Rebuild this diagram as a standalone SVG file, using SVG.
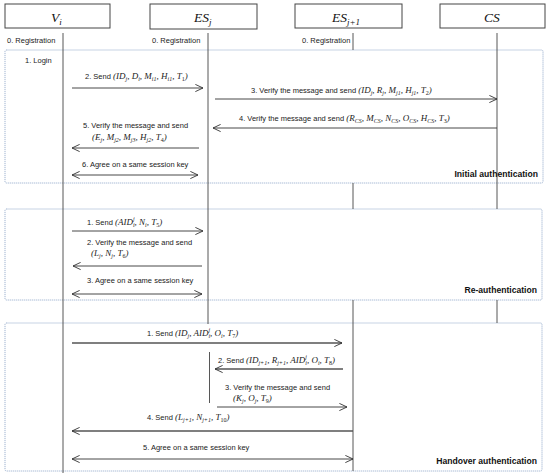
<svg xmlns="http://www.w3.org/2000/svg" width="550" height="476" viewBox="0 0 550 476">
<style>
.hdr{fill:#fff;stroke:#444;stroke-width:1}
.ht{font-family:"Liberation Serif",serif;font-style:italic;font-size:13.5px;fill:#111}
.hs{font-size:9px}
.lbl{font-family:"Liberation Sans",Arial,sans-serif;font-size:7.5px;fill:#222}
.m{font-family:"Liberation Serif",serif;font-style:italic;font-size:9px}
.s{font-size:6px}
.up{font-style:normal}
.bold{font-family:"Liberation Sans",Arial,sans-serif;font-size:8.6px;font-weight:bold;fill:#111;text-anchor:end}
.life{stroke:#444;stroke-width:0.9;fill:none}
.frame{fill:none;stroke:#8ea6c8;stroke-width:1;stroke-dasharray:1 1}
.arr{stroke:#333;stroke-width:0.9;fill:none;marker-end:url(#ah)}
.arr2{stroke:#333;stroke-width:0.9;fill:none;marker-end:url(#ah);marker-start:url(#ah)}
.thick{stroke:#555;stroke-width:1.5}
</style>
<defs>
<marker id="ah" viewBox="0 0 10 10" refX="9.5" refY="5" markerWidth="9" markerHeight="9" markerUnits="userSpaceOnUse" orient="auto-start-reverse">
<path d="M1,1 L9.5,5 L1,9" fill="none" stroke="#333" stroke-width="1"/>
</marker>
</defs>
<rect width="550" height="476" fill="#fff"/>

<!-- frames -->
<rect class="frame" x="5" y="50" width="538" height="133" rx="1.5"/>
<rect class="frame" x="5" y="209" width="537" height="91" rx="1.5"/>
<rect class="frame" x="5" y="323" width="537" height="148" rx="1.5"/>

<!-- lifelines / nodes -->
<g id="Vi">
<rect class="hdr" x="5" y="4" width="105" height="24"/>
<text class="ht" x="51" y="22">V<tspan class="hs" dy="2.5">i</tspan></text>
<line class="life" x1="63" y1="33" x2="63" y2="473"/>
<text class="lbl" x="7" y="43">0. Registration</text>
</g>
<g id="ESj">
<rect class="hdr" x="150" y="4" width="107" height="25"/>
<text class="ht" x="194" y="22">ES<tspan class="hs" dy="2.5">j</tspan></text>
<line class="life" x1="208" y1="33" x2="208" y2="324"/>
<line class="life" x1="209.5" y1="352" x2="209.5" y2="403"/>
<text class="lbl" x="152" y="43">0. Registration</text>
</g>
<g id="ESj1">
<rect class="hdr" x="295" y="4" width="107" height="24"/>
<text class="ht" x="332" y="22">ES<tspan class="hs" dy="2.5">j+1</tspan></text>
<line class="life" x1="353" y1="33" x2="353" y2="50"/>
<line class="life" x1="353" y1="183" x2="353" y2="209"/>
<line class="life" x1="353" y1="300" x2="353" y2="471"/>
<text class="lbl" x="302" y="43">0. Registration</text>
</g>
<g id="CS">
<rect class="hdr" x="440" y="4" width="105" height="24"/>
<text class="ht" x="484" y="22">CS</text>
<line class="life" x1="497" y1="33" x2="497" y2="209"/>
<line class="life" x1="497" y1="300" x2="497" y2="323"/>
</g>

<!-- connectors -->
<g id="connectors">
<line class="arr" x1="72" y1="88" x2="203" y2="88"/>
<line class="arr" x1="215" y1="99" x2="497" y2="99"/>
<line class="arr" x1="497" y1="128" x2="213" y2="128"/>
<line class="arr" x1="199" y1="148" x2="72" y2="148"/>
<line class="arr2" x1="72" y1="175" x2="198" y2="175"/>
<line class="arr" x1="72" y1="231" x2="203" y2="231"/>
<line class="arr" x1="202" y1="266" x2="73" y2="266"/>
<line class="arr2" x1="72" y1="294" x2="202" y2="294"/>
<line class="arr thick" x1="72" y1="343" x2="342" y2="343"/>
<line class="arr thick" x1="343" y1="369" x2="215" y2="369"/>
<line class="arr" x1="217" y1="407" x2="347" y2="407"/>
<line class="arr thick" x1="353" y1="431" x2="72" y2="431"/>
<line class="arr2" x1="72" y1="459" x2="353" y2="459"/>
</g>

<!-- labels -->
<g id="labels">
<text class="lbl" x="25" y="63">1. Login</text>
<text class="lbl" x="85" y="79">2. Send <tspan class="m">(ID<tspan class="s" dy="2">j</tspan><tspan dy="-2">, D</tspan><tspan class="s" dy="2">i</tspan><tspan dy="-2">, M</tspan><tspan class="s" dy="2">i1</tspan><tspan dy="-2">, H</tspan><tspan class="s" dy="2">i1</tspan><tspan dy="-2">, T</tspan><tspan class="s up" dy="2">1</tspan><tspan dy="-2">)</tspan></tspan></text>
<text class="lbl" x="251" y="93">3. Verify the message and send <tspan class="m">(ID<tspan class="s" dy="2">j</tspan><tspan dy="-2">, R</tspan><tspan class="s" dy="2">j</tspan><tspan dy="-2">, M</tspan><tspan class="s" dy="2">j1</tspan><tspan dy="-2">, H</tspan><tspan class="s" dy="2">j1</tspan><tspan dy="-2">, T</tspan><tspan class="s up" dy="2">2</tspan><tspan dy="-2">)</tspan></tspan></text>
<text class="lbl" x="239" y="121">4. Verify the message and send <tspan class="m">(R<tspan class="s" dy="2">CS</tspan><tspan dy="-2">, M</tspan><tspan class="s" dy="2">CS</tspan><tspan dy="-2">, N</tspan><tspan class="s" dy="2">CS</tspan><tspan dy="-2">, O</tspan><tspan class="s" dy="2">CS</tspan><tspan dy="-2">, H</tspan><tspan class="s" dy="2">CS</tspan><tspan dy="-2">, T</tspan><tspan class="s up" dy="2">3</tspan><tspan dy="-2">)</tspan></tspan></text>
<text class="lbl" x="83" y="128">5. Verify the message and send</text>
<text class="lbl" x="92" y="140"><tspan class="m">(E<tspan class="s" dy="2">j</tspan><tspan dy="-2">, M</tspan><tspan class="s" dy="2">j2</tspan><tspan dy="-2">, M</tspan><tspan class="s" dy="2">j3</tspan><tspan dy="-2">, H</tspan><tspan class="s" dy="2">j2</tspan><tspan dy="-2">, T</tspan><tspan class="s up" dy="2">4</tspan><tspan dy="-2">)</tspan></tspan></text>
<text class="lbl" x="82" y="167">6. Agree on a same session key</text>
<text class="bold" x="538" y="177">Initial authentication</text>

<text class="lbl" x="87" y="225">1. Send <tspan class="m">(AID<tspan class="s" dy="2">i</tspan><tspan class="s" dx="-1.7" dy="-6">j</tspan><tspan dy="4">, N</tspan><tspan class="s" dy="2">i</tspan><tspan dy="-2">, T</tspan><tspan class="s up" dy="2">5</tspan><tspan dy="-2">)</tspan></tspan></text>
<text class="lbl" x="87" y="245">2. Verify the message and send</text>
<text class="lbl" x="91" y="256"><tspan class="m">(L<tspan class="s" dy="2">j</tspan><tspan dy="-2">, N</tspan><tspan class="s" dy="2">j</tspan><tspan dy="-2">, T</tspan><tspan class="s up" dy="2">6</tspan><tspan dy="-2">)</tspan></tspan></text>
<text class="lbl" x="87" y="283">3. Agree on a same session key</text>
<text class="bold" x="537" y="293">Re-authentication</text>

<text class="lbl" x="147" y="336">1. Send <tspan class="m">(ID<tspan class="s" dy="2">j</tspan><tspan dy="-2">, AID</tspan><tspan class="s" dy="2">i</tspan><tspan class="s" dx="-1.7" dy="-6">j</tspan><tspan dy="4">, O</tspan><tspan class="s" dy="2">i</tspan><tspan dy="-2">, T</tspan><tspan class="s up" dy="2">7</tspan><tspan dy="-2">)</tspan></tspan></text>
<text class="lbl" x="218" y="363">2. Send <tspan class="m">(ID<tspan class="s" dy="2">j+1</tspan><tspan dy="-2">, R</tspan><tspan class="s" dy="2">j+1</tspan><tspan dy="-2">, AID</tspan><tspan class="s" dy="2">i</tspan><tspan class="s" dx="-1.7" dy="-6">j</tspan><tspan dy="4">, O</tspan><tspan class="s" dy="2">i</tspan><tspan dy="-2">, T</tspan><tspan class="s up" dy="2">8</tspan><tspan dy="-2">)</tspan></tspan></text>
<text class="lbl" x="225" y="390">3. Verify the message and send</text>
<text class="lbl" x="233" y="401"><tspan class="m">(K<tspan class="s" dy="2">j</tspan><tspan dy="-2">, O</tspan><tspan class="s" dy="2">j</tspan><tspan dy="-2">, T</tspan><tspan class="s up" dy="2">9</tspan><tspan dy="-2">)</tspan></tspan></text>
<text class="lbl" x="147" y="420">4. Send <tspan class="m">(L<tspan class="s" dy="2">j+1</tspan><tspan dy="-2">, N</tspan><tspan class="s" dy="2">j+1</tspan><tspan dy="-2">, T</tspan><tspan class="s up" dy="2">10</tspan><tspan dy="-2">)</tspan></tspan></text>
<text class="lbl" x="143" y="450">5. Agree on a same session key</text>
<text class="bold" x="537" y="464">Handover authentication</text>
</g>
</svg>
